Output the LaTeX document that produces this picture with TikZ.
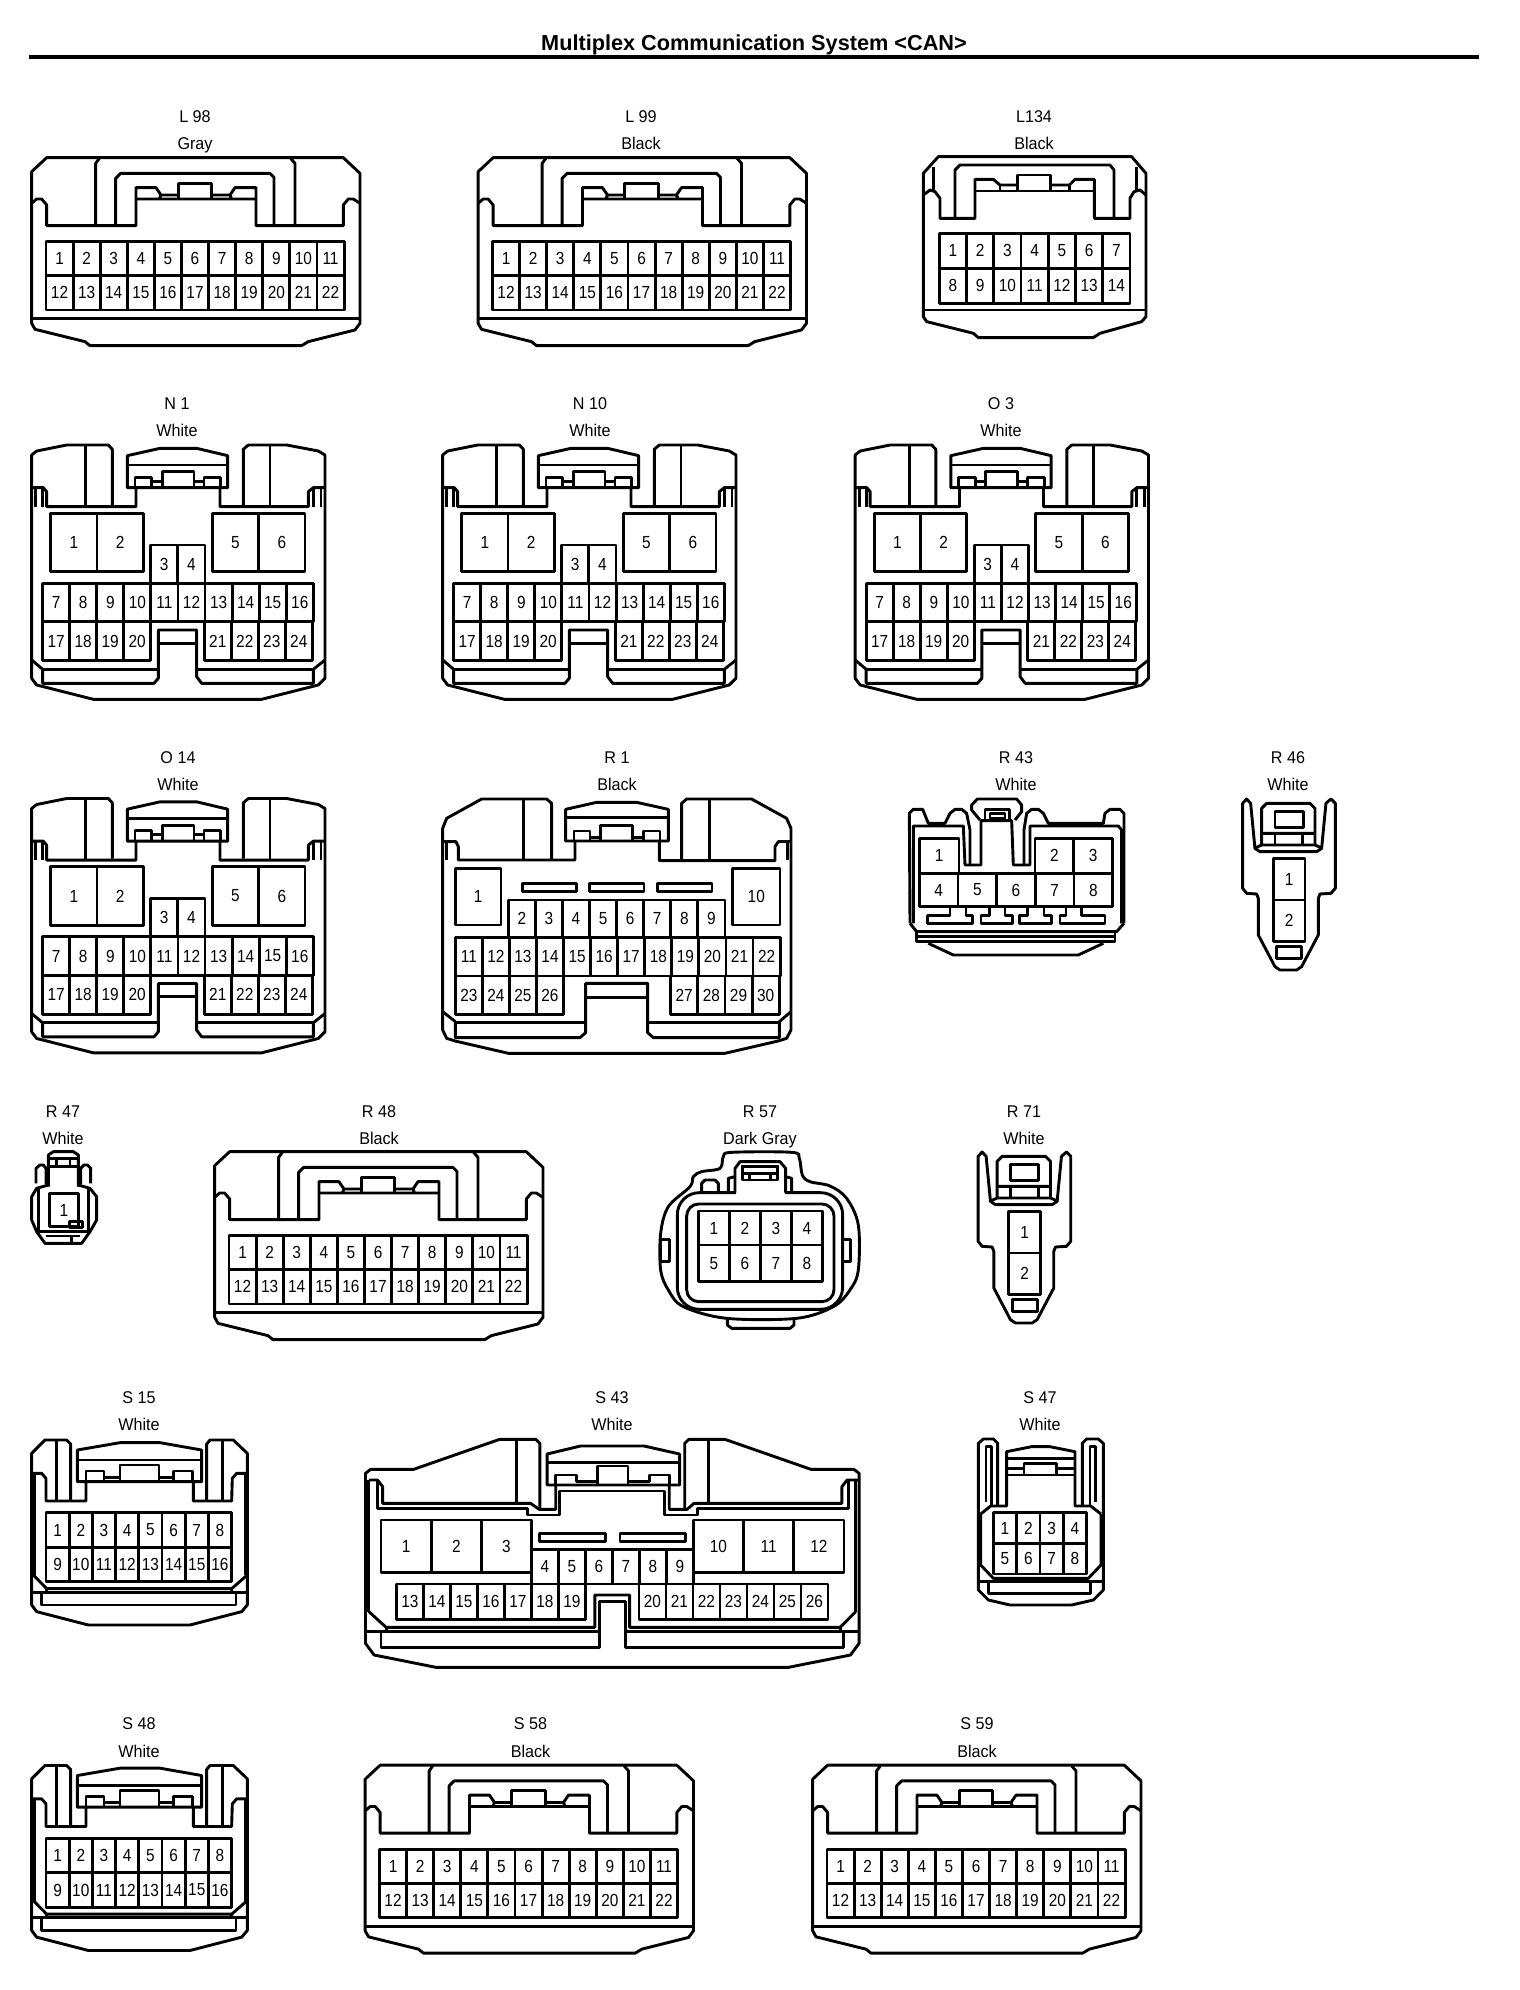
\documentclass[tikz,border=0pt]{standalone}
\usepackage{fontspec}
\setmainfont{Liberation Sans}
\newfontfamily\pinfont[FakeStretch=0.88]{Liberation Sans}
\newfontfamily\tagfont[FakeStretch=0.95]{Liberation Sans}

% One row of numbered cavities, in zoom units
\newcommand{\pinrow}[6]{%
  \foreach \n [count=\k from 0] in {#5,...,#6}
    \draw ({#1+\k*#3},#2) rectangle ++(#3,#4) node[midway,pinnum] (p\n) {\n};%
}
% A single cavity
\newcommand{\pinone}[5]{\draw (#1,#2) rectangle (#3,#4) node[midway,pinnum] (p#5) {#5};}

\tikzset{
  fine/.style={x=0.3333pt,y=-0.3333pt,line width=2.9pt,line join=round},
  pinnum/.style={font=\pinfont\fontsize{17.5}{18}\selectfont,inner sep=0pt},
  tagtext/.style={font=\tagfont\fontsize{17}{18}\selectfont,inner sep=0pt,anchor=base},
  % 22 way
  plugwide/.pic={
    \begin{scope}[fine]
      \draw (95,245) -- (140,203) -- (1030,203) -- (1080,250) -- (1080,700) -- (1065,720) -- (925,755) -- (905,767) -- (270,767) -- (255,755) -- (105,718) -- (95,700) -- cycle;
      \draw (95,686) -- (1080,686);
      \draw (95,340) -- (110,327) -- (125,327) -- (140,345) -- (140,407) -- (408,407) -- (408,293) -- (468,293) -- (483,315) -- (535,315);
      \draw (635,315) -- (690,315) -- (705,293) -- (768,293) -- (768,407) -- (1030,407) -- (1030,345) -- (1045,327) -- (1060,327) -- (1080,340);
      \draw (408,327) -- (768,327) (483,315) -- (478,327) (690,315) -- (695,327);
      \draw (535,327) -- (535,280) -- (635,280) -- (635,327);
      \draw (287,407) -- (287,220) -- (298,205) (885,407) -- (885,220) -- (872,205);
      \draw (347,407) -- (347,265) -- (362,250) -- (810,250) -- (822,262) -- (822,407);
      \pinrow{138}{455}{81.3}{102}{1}{11}
      \pinrow{138}{557}{81.3}{103}{12}{22}
    \end{scope}
  },
  % 14 way
  plugmid/.pic={
    \begin{scope}[fine]
      \draw (40,70) -- (85,20) -- (665,20) -- (708,70) -- (708,500) -- (695,515) -- (570,550) -- (550,563) -- (205,563) -- (190,550) -- (50,515) -- (40,500) -- cycle;
      \draw (40,480) -- (708,480);
      \draw (40,135) -- (60,120) -- (75,125) -- (90,145) -- (90,205) -- (195,205) -- (195,88) -- (250,88) -- (270,105) -- (322,105);
      \draw (422,105) -- (478,105) -- (495,88) -- (553,88) -- (553,205) -- (660,205) -- (660,145) -- (672,125) -- (690,120) -- (708,135);
      \draw (195,123) -- (553,123) (270,105) -- (270,123) (478,105) -- (478,123);
      \draw (322,123) -- (322,75) -- (422,75) -- (422,123);
      \draw (70,50) -- (70,122) (680,50) -- (680,122);
      \draw (135,205) -- (135,60) -- (150,45) -- (600,45) -- (612,60) -- (612,205);
      \pinrow{88}{250}{81.7}{105}{1}{7}
      \pinrow{88}{355}{81.7}{105}{8}{14}
    \end{scope}
  },
  % 24 way
  plugsix/.pic={
    \begin{scope}[fine]
      \draw (337,345) -- (337,178) -- (325,165) -- (200,165) -- (110,183) -- (95,195) -- (95,865) -- (110,885) -- (280,928) -- (785,928) -- (955,885) -- (975,865) -- (975,195) -- (955,183) -- (860,165) -- (745,165) -- (730,178) -- (730,345);
      \draw (95,293) -- (130,293) -- (140,305) -- (140,350) -- (408,350) -- (408,293);
      \draw (660,293) -- (660,350) -- (925,350) -- (925,305) -- (940,293) -- (975,293);
      \draw (107,295) -- (107,350) (128,295) -- (128,350) (963,295) -- (963,350) (940,295) -- (940,350);
      \draw (257,165) -- (257,350) (810,165) -- (810,350);
      \draw (382,197) -- (480,175) -- (590,175) -- (683,197) -- (683,293) -- (382,293) -- cycle;
      \draw (382,225) -- (683,225);
      \draw (405,293) -- (405,262) -- (455,262) -- (455,293) (455,274) -- (487,274) (582,274) -- (612,274);
      \draw (487,293) -- (487,245) -- (582,245) -- (582,293);
      \draw (612,293) -- (612,262) -- (662,262) -- (662,293);
      \pinrow{152}{370}{139}{175}{1}{2}
      \pinrow{637}{370}{139}{175}{5}{6}
      \pinrow{452}{465}{81.5}{115}{3}{4}
      \pinrow{128}{580}{81.2}{115}{7}{16}
      \pinrow{128}{695}{81}{117}{17}{20}
      \pinrow{613}{695}{81}{117}{21}{24}
      \draw (95,810) -- (128,838) -- (128,880) -- (462,880) -- (475,865) -- (475,720) -- (590,720) -- (590,860) -- (605,880) -- (940,880) -- (940,838) -- (975,810);
      \draw (128,838) -- (475,838) (590,838) -- (940,838) (475,760) -- (590,760);
    \end{scope}
  },
  % 30 way
  plugten/.pic={
    \begin{scope}[fine]
      \draw (365,330) -- (365,160) -- (350,147) -- (155,147) -- (50,205) -- (38,235) -- (38,840) -- (50,865) -- (75,873) -- (235,910) -- (885,910) -- (1045,873) -- (1070,865) -- (1083,840) -- (1083,235) -- (1070,205) -- (965,147) -- (770,147) -- (755,160) -- (755,330);
      \draw (40,275) -- (78,275) -- (85,290) -- (85,330) -- (435,330) -- (435,273);
      \draw (688,273) -- (688,332) -- (1035,332) -- (1035,290) -- (1045,275) -- (1083,275);
      \draw (50,275) -- (50,330) (1073,275) -- (1073,330);
      \draw (280,147) -- (280,330) (838,147) -- (838,330);
      \draw (407,178) -- (500,157) -- (620,157) -- (715,178) -- (715,273) -- (407,273) -- cycle;
      \draw (407,203) -- (715,203);
      \draw (432,273) -- (432,243) -- (480,243) -- (480,273) (480,262) -- (512,262) (607,262) -- (640,262);
      \draw (512,273) -- (512,226) -- (607,226) -- (607,273);
      \draw (640,273) -- (640,243) -- (690,243) -- (690,273);
      \pinone{76}{355}{213}{525}{1}
      \pinone{908}{355}{1050}{525}{10}
      \draw (277,400) rectangle (440,425) (478,400) rectangle (642,425) (682,400) rectangle (846,425);
      \pinrow{235}{450}{81.25}{112}{2}{9}
      \pinrow{76}{562}{81.2}{116}{11}{22}
      \pinrow{76}{678}{81}{115}{23}{26}
      \pinrow{722}{678}{81.5}{115}{27}{30}
      \draw (38,785) -- (76,815) -- (76,863) -- (450,863) -- (467,848) -- (467,700) -- (653,700) -- (653,848) -- (670,863) -- (1048,863) -- (1048,815) -- (1083,785);
      \draw (76,818) -- (467,818) (653,818) -- (1048,818) (467,742) -- (653,742);
    \end{scope}
  },
  % 2 way
  plugtwo/.pic={
    \begin{scope}[fine]
      \draw (1028,415) -- (1028,160) -- (1040,147) -- (1052,160) -- (1065,295) -- (1080,305) -- (1250,305) -- (1265,295) -- (1278,160) -- (1293,147) -- (1306,160) -- (1306,415) -- (1293,430) -- (1260,432) -- (1255,445) -- (1255,555) -- (1205,650) -- (1190,660) -- (1140,660) -- (1125,650) -- (1075,555) -- (1075,445) -- (1070,432) -- (1040,430) -- cycle;
      \draw (1085,285) -- (1085,175) -- (1100,160) -- (1230,160) -- (1245,175) -- (1245,285);
      \draw (1085,250) -- (1245,250) (1063,295) -- (1085,285) -- (1245,285) -- (1268,295);
      \draw (1125,185) rectangle (1210,233);
      \draw (1125,250) -- (1125,285) (1208,250) -- (1208,285);
      \pinone{1120}{325}{1215}{450}{1}
      \pinone{1120}{450}{1215}{575}{2}
      \draw (1130,590) rectangle (1205,625);
    \end{scope}
  },
  % 16 way
  plugeight/.pic={
    \begin{scope}[fine]
      \draw (212,333) -- (212,162) -- (200,150) -- (135,150) -- (95,190) -- (95,645) -- (110,665) -- (265,705) -- (570,705) -- (725,665) -- (742,645) -- (742,190) -- (700,150) -- (630,150) -- (620,162) -- (620,333);
      \draw (98,250) -- (125,250) -- (138,265) -- (138,333) -- (258,333) -- (258,275);
      \draw (580,275) -- (580,333) -- (695,333) -- (697,265) -- (710,250) -- (742,250);
      \draw (104,250) -- (104,555) (735,250) -- (735,555);
      \draw (170,150) -- (170,333) (668,150) -- (668,333);
      \draw (232,180) -- (360,158) -- (480,158) -- (605,180) -- (605,275) -- (232,275) -- cycle;
      \draw (232,210) -- (605,210);
      \draw (258,275) -- (258,243) -- (312,243) -- (312,275) (312,262) -- (360,262) (477,262) -- (520,262);
      \draw (360,275) -- (360,225) -- (477,225) -- (477,275);
      \draw (520,275) -- (520,243) -- (578,243) -- (578,275);
      \pinrow{138}{368}{69.6}{104}{1}{8}
      \pinrow{138}{472}{69.6}{103}{9}{16}
      \draw (100,555) -- (140,596) -- (695,596) -- (742,555);
      \draw (95,607) -- (742,607) (140,596) -- (140,607) (695,596) -- (695,607);
      \draw (125,607) -- (125,645) -- (708,645) -- (708,607);
    \end{scope}
  }
}

\begin{document}
\begin{tikzpicture}[x=1pt,y=-1pt]
  \useasboundingbox (0,0) rectangle (1520,1990);
  % Heading
  \node[font=\bfseries\fontsize{21.7}{24}\selectfont,inner sep=0pt,anchor=base] (heading) at (754,50) {Multiplex Communication System <CAN>};
  \coordinate (ruleleft) at (29,57);
  \coordinate (ruleright) at (1479,57);
  \draw[line width=4pt] (ruleleft) -- (ruleright);
  % Tags over the connectors
  \foreach \id/\xx/\yy/\nm/\col in {
      a/195/122/L 98/Gray, b/641/122/L 99/Black, c/1034/122/L134/Black,
      d/177/409/N 1/White, e/590/409/N 10/White, f/1001/409/O 3/White,
      g/178/763/O 14/White, h/617/763/R 1/Black, i/1016/763/R 43/White, j/1288/763/R 46/White,
      k/63/1117/R 47/White, l/379/1117/R 48/Black, m/760/1117/R 57/Dark Gray, n/1024/1117/R 71/White,
      o/139/1403/S 15/White, p/612/1403/S 43/White, q/1040/1403/S 47/White,
      r/139/1729.5/S 48/White, s/530.5/1729.5/S 58/Black, t/977/1729.5/S 59/Black}{
    \node[tagtext] (tag\id) at (\xx,\yy) {\nm};
    \node[tagtext] (col\id) at (\xx,\yy+27.5) {\col};
  }
  % Wide plugs
  \pic (l98) at (0,90) {plugwide};
  \pic (l99) at (446.5,90) {plugwide};
  \pic (r48) at (183,1084) {plugwide};
  \pic (s58) at (333.5,1697.5) {plugwide};
  \pic (s59) at (781,1697.5) {plugwide};
  \pic (l134) at (910,150) {plugmid};
  % Plugs with big cavities
  \pic (n1) at (0,390) {plugsix};
  \pic (n10) at (411,390) {plugsix};
  \pic (o3) at (823.5,390) {plugsix};
  \pic (o14) at (0,743.5) {plugsix};
  \pic (r1) at (430,750) {plugten};
  % R 43
  \begin{scope}[shift={(900,750)},fine]
    \draw (30,520) -- (28,190) -- (40,178) -- (68,178) -- (85,220) -- (135,220) -- (150,190) -- (165,178) -- (185,178) -- (200,190) -- (210,240) -- (210,345);
    \draw (672,520) -- (672,190) -- (660,178) -- (630,178) -- (615,190) -- (610,220) -- (445,220) -- (430,190) -- (415,178) -- (395,178) -- (380,190) -- (372,240) -- (372,345);
    \draw (40,520) -- (40,228) -- (190,228) -- (195,345) -- (243,345) -- (243,212) -- (335,212) -- (340,345) -- (390,345) -- (390,228) -- (655,228) -- (665,240) -- (665,520);
    \draw (240,210) -- (215,180) -- (215,165) -- (232,147) -- (350,147) -- (365,165) -- (365,185) -- (345,210);
    \draw (255,212) -- (255,178) -- (328,178) -- (328,212) (270,190) rectangle (315,205);
    \pinone{58}{265}{177}{370}{1}
    \pinrow{405}{265}{116.5}{105}{2}{3}
    \pinrow{58}{370}{116}{100}{4}{8}
    \draw (150,470) -- (150,497) -- (82,497) -- (82,520) -- (218,520) -- (218,497) -- (198,497) -- (198,470);
    \draw (268,470) -- (268,497) -- (243,497) -- (243,520) -- (338,520) -- (338,497) -- (315,497) -- (315,470);
    \draw (382,470) -- (382,497) -- (358,497) -- (358,520) -- (455,520) -- (455,497) -- (432,497) -- (432,470);
    \draw (498,470) -- (498,497) -- (480,497) -- (480,520) -- (615,520) -- (615,497) -- (545,497) -- (545,470);
    \draw (30,520) -- (50,545) -- (650,545) -- (672,520);
    \draw (50,545) -- (50,575) -- (645,575) -- (645,545) (50,560) -- (645,560);
    \draw (85,580) -- (160,615) -- (535,615) -- (610,580);
  \end{scope}
  % Two way plugs
  \pic (r46) at (900,750) {plugtwo};
  \pic (r71) at (635.5,1103) {plugtwo};
  % R 47
  \begin{scope}[shift={(10,1100)},fine]
    \draw (115,260) -- (115,165) -- (130,155) -- (190,155) -- (205,165) -- (205,260);
    \draw (115,175) -- (205,175) (115,200) -- (205,200) (140,175) -- (140,200) (180,175) -- (180,200);
    \draw (78,250) -- (78,205) -- (90,195) -- (100,195) -- (108,205) -- (108,252);
    \draw (212,252) -- (212,205) -- (222,195) -- (232,195) -- (242,205) -- (242,250);
    \draw (115,255) -- (80,265) -- (65,290) -- (65,360) -- (80,395) -- (105,430) -- (215,430) -- (240,395) -- (260,360) -- (260,290) -- (240,265) -- (205,255);
    \draw (85,395) -- (85,265) (235,265) -- (235,395) -- (85,395);
    \pinone{118}{280}{205}{380}{1}
    \draw (178,365) rectangle (218,382);
    \draw (108,408) -- (210,408) (185,408) -- (185,430);
  \end{scope}
  % R 57
  \begin{scope}[shift={(640,1110)},fine]
    \draw plot[smooth cycle,tension=0.55] coordinates {(240,175) (250,140) (275,127) (455,127) (478,145) (487,195) (510,215) (570,228) (620,265) (655,345) (655,480) (630,540) (580,590) (470,625) (260,625) (130,590) (85,540) (62,480) (62,370) (85,290) (150,230) (160,200) (185,185)};
    \draw[rounded corners=22pt] (112,248) rectangle (608,598);
    \draw[rounded corners=12pt] (140,282) rectangle (582,575);
    \pinrow{175}{303}{93}{102}{1}{4}
    \pinrow{175}{405}{93}{110}{5}{8}
    \fill[white] (288,235) rectangle (434,262);
    \draw (185,248) -- (185,220) -- (195,210) -- (225,210) -- (235,220) -- (235,248);
    \draw (265,248) -- (265,205) -- (285,200);
    \draw (285,248) -- (285,175) -- (300,155) -- (420,155) -- (437,175) -- (437,248);
    \draw (437,200) -- (455,205) -- (455,248);
    \draw (308,170) -- (412,170) (308,165) -- (308,210) -- (412,210) -- (412,165) (328,190) rectangle (392,210) (308,190) -- (412,190);
    \draw (88,388) rectangle (62,455) (608,388) rectangle (632,455);
    \draw (262,625) -- (262,645) -- (275,655) -- (450,655) -- (462,645) -- (462,625);
  \end{scope}
  % Small wide plugs
  \pic (s15) at (0,1390) {plugeight};
  \pic (s48) at (0,1715.5) {plugeight};
  % S 43
  \begin{scope}[shift={(350,1430)},fine,x=0.344pt]
    \draw (552,238) -- (552,40) -- (540,28) -- (435,28) -- (185,118) -- (60,118) -- (45,130) -- (45,640) -- (70,675) -- (250,712) -- (1275,712) -- (1455,675) -- (1480,640) -- (1480,130) -- (1465,118) -- (1340,118) -- (1090,28) -- (985,28) -- (973,40) -- (973,238);
    \draw (55,150) -- (80,150) -- (95,170) -- (95,220) -- (525,220) -- (550,238) -- (598,238) -- (598,165);
    \draw (928,165) -- (928,238) -- (980,238) -- (1000,220) -- (1430,220) -- (1430,170) -- (1445,150) -- (1480,150);
    \draw (80,150) -- (80,235) -- (515,235) -- (515,255) -- (610,255) -- (610,183) -- (915,183) -- (915,255) -- (1010,255) -- (1010,235) -- (1450,235) -- (1450,150);
    \draw (483,28) -- (483,220) (1043,28) -- (1043,220);
    \draw (573,72) -- (670,48) -- (855,48) -- (958,72) -- (958,165) -- (573,165) -- cycle;
    \draw (573,98) -- (958,98);
    \draw (598,165) -- (598,135) -- (658,135) -- (658,155) -- (720,155) (808,155) -- (870,155) -- (870,135) -- (930,135) -- (930,165);
    \draw (720,165) -- (720,108) -- (808,108) -- (808,165);
    \draw (55,150) -- (55,545) (1470,150) -- (1470,545);
    \pinrow{90}{270}{146}{157}{1}{3}
    \pinrow{998}{270}{146}{157}{10}{12}
    \draw (550,310) rectangle (742,335) (785,310) rectangle (975,335);
    \pinrow{527}{358}{78.5}{104}{4}{9}
    \pinrow{135}{462}{78.5}{106}{13}{19}
    \pinrow{840}{462}{78.5}{106}{20}{26}
    \draw (45,605) -- (725,605) (800,605) -- (1480,605);
    \draw (55,545) -- (105,592) -- (712,592) -- (712,495) -- (813,495) -- (813,592) -- (1425,592) -- (1470,545);
    \draw (105,592) -- (105,605) (1425,592) -- (1425,605);
    \draw (90,605) -- (90,652) -- (725,652) -- (725,515) -- (800,515) -- (800,652) -- (1435,652) -- (1435,605);
  \end{scope}
  % S 47
  \begin{scope}[shift={(960,1400)},fine]
    \draw (113,318) -- (113,130) -- (100,117) -- (70,117) -- (55,130) -- (55,570) -- (85,600) -- (150,615) -- (335,615) -- (400,600) -- (430,570) -- (430,130) -- (415,117) -- (380,117) -- (367,130) -- (367,318);
    \draw (78,305) -- (78,140) -- (95,140) -- (95,318) (390,318) -- (390,140) -- (407,140) -- (407,305);
    \draw (62,342) -- (92,318) -- (140,318) -- (140,155) -- (215,140) -- (270,140) -- (345,155) -- (345,318) -- (392,318) -- (423,342);
    \draw (140,175) -- (345,175) (140,225) -- (345,225) (140,205) -- (192,205) (290,205) -- (345,205);
    \draw (192,225) -- (192,190) -- (290,190) -- (290,225);
    \draw (62,342) -- (62,495) -- (100,535) -- (385,535) -- (423,495) -- (423,342);
    \pinrow{100}{338}{70}{92}{1}{4}
    \pinrow{100}{430}{70}{92}{5}{8}
    \draw (55,545) -- (430,545) (85,545) -- (85,580) -- (392,580) -- (392,545);
  \end{scope}
\end{tikzpicture}
\end{document}
